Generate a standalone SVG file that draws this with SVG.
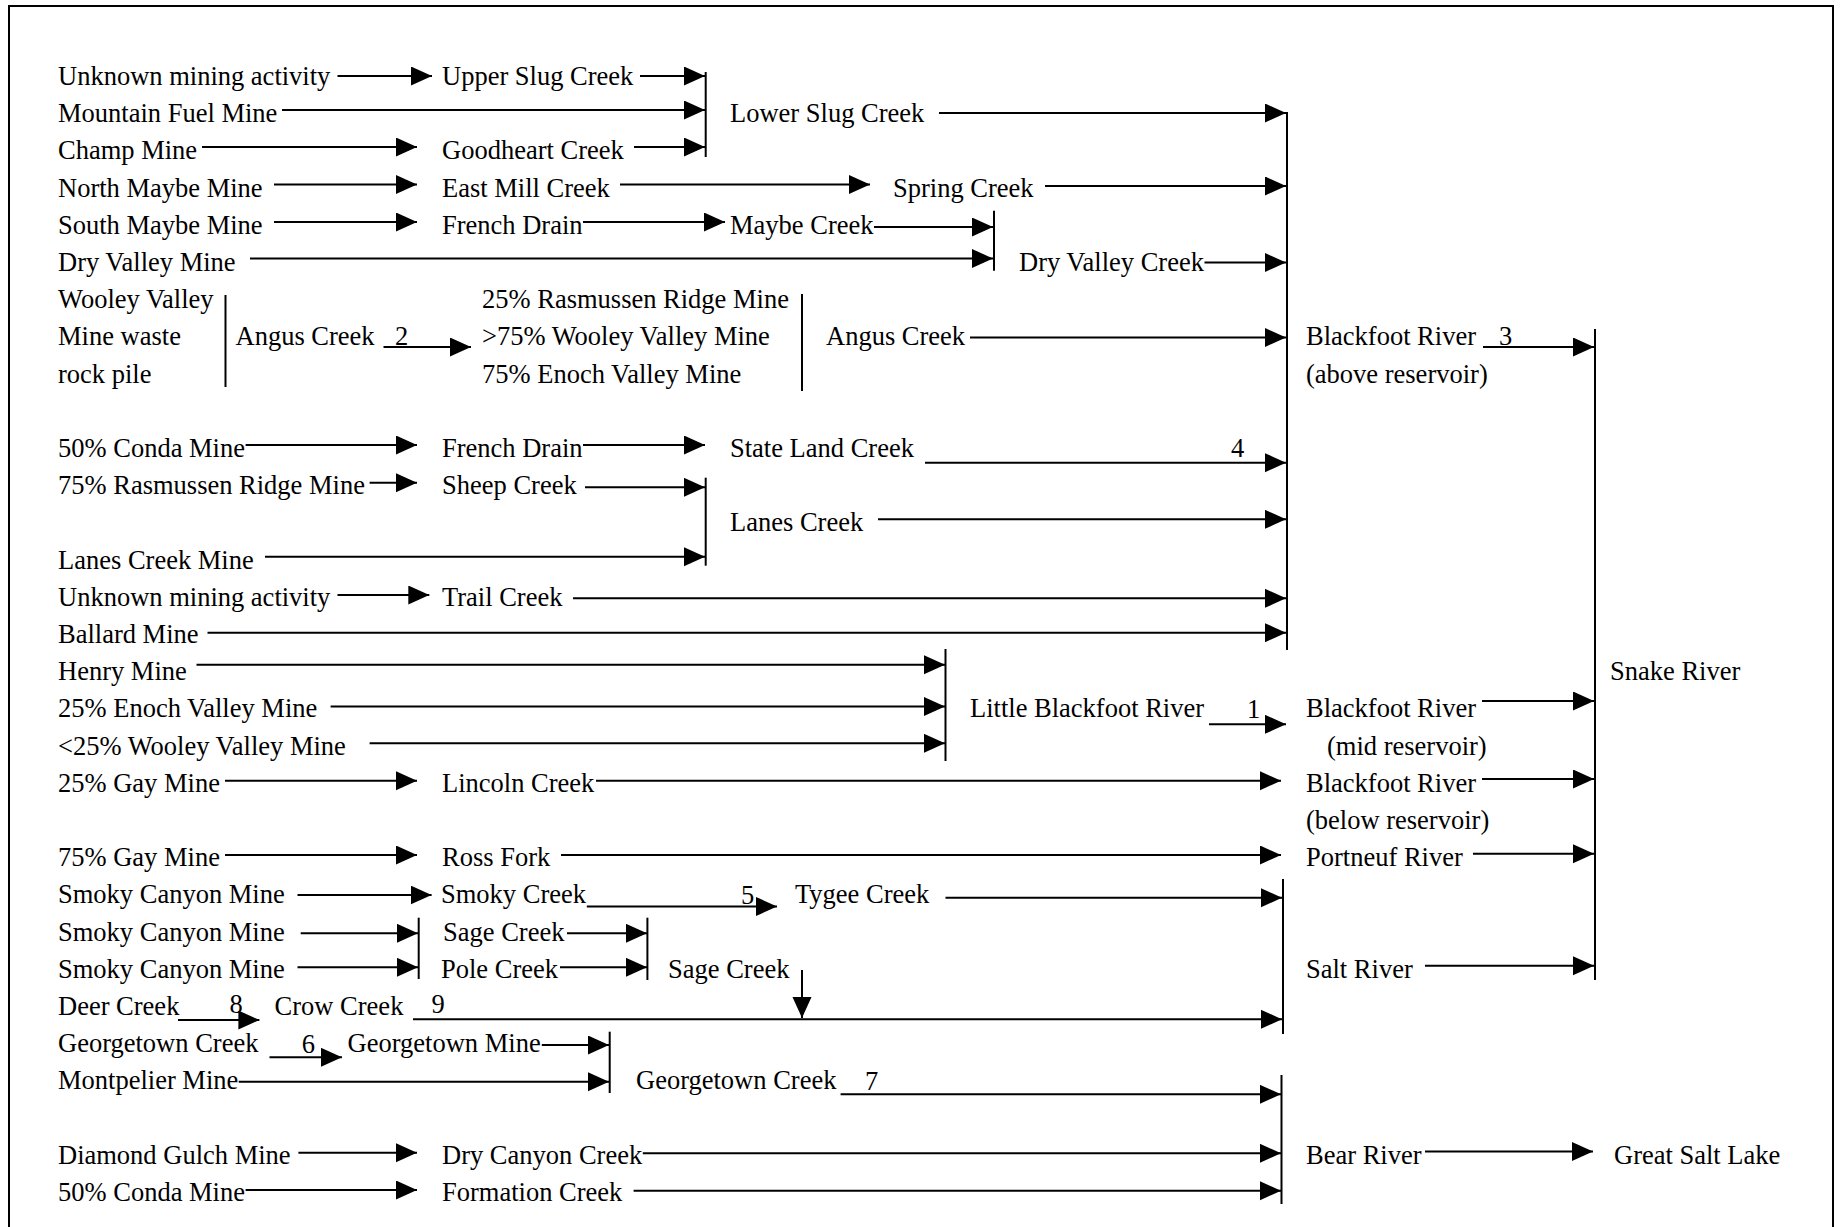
<svg xmlns="http://www.w3.org/2000/svg" width="1843" height="1227" viewBox="0 0 1843 1227">
<defs>
<marker id="ah" markerUnits="userSpaceOnUse" markerWidth="22" markerHeight="20" refX="21" refY="9.5" orient="auto">
<path d="M0,0 L21,9.5 L0,19 z" fill="#000"/>
</marker>
<style>
text{font-family:"Liberation Serif","Times New Roman",serif;font-size:26.5px;fill:#000}
.c line{stroke:#000;stroke-width:2;marker-end:url(#ah)}
.b line{stroke:#000;stroke-width:2}
</style>
</defs>
<rect width="1843" height="1227" fill="#fff"/>
<path d="M9,1227 V6 H1833 V1227" fill="none" stroke="#000" stroke-width="2"/>
<g id="nodes">
<g id="n1"><text x="58" y="85">Unknown mining activity</text></g>
<g id="n2"><text x="442" y="85">Upper Slug Creek</text></g>
<g id="n3"><text x="58" y="122.2">Mountain Fuel Mine</text></g>
<g id="n4"><text x="730" y="122.2">Lower Slug Creek</text></g>
<g id="n5"><text x="58" y="159.4">Champ Mine</text></g>
<g id="n6"><text x="442" y="159.4">Goodheart Creek</text></g>
<g id="n7"><text x="58" y="196.6">North Maybe Mine</text></g>
<g id="n8"><text x="442" y="196.6">East Mill Creek</text></g>
<g id="n9"><text x="893" y="196.6">Spring Creek</text></g>
<g id="n10"><text x="58" y="233.8">South Maybe Mine</text></g>
<g id="n11"><text x="442" y="233.8">French Drain</text></g>
<g id="n12"><text x="730" y="233.8">Maybe Creek</text></g>
<g id="n13"><text x="58" y="271">Dry Valley Mine</text></g>
<g id="n14"><text x="1019" y="271">Dry Valley Creek</text></g>
<g id="n15"><text x="58" y="308.2">Wooley Valley</text><text x="58" y="345.4">Mine waste</text><text x="58" y="382.6">rock pile</text></g>
<g id="n16"><text x="235.5" y="345.4">Angus Creek</text></g>
<g id="n17"><text x="482" y="308.2">25% Rasmussen Ridge Mine</text><text x="482" y="345.4">&gt;75% Wooley Valley Mine</text><text x="482" y="382.6">75% Enoch Valley Mine</text></g>
<g id="n18"><text x="826" y="345.4">Angus Creek</text></g>
<g id="n19"><text x="1306" y="345.4">Blackfoot River</text><text x="1306" y="382.6">(above reservoir)</text></g>
<g id="n20"><text x="58" y="457">50% Conda Mine</text></g>
<g id="n21"><text x="442" y="457">French Drain</text></g>
<g id="n22"><text x="730" y="457">State Land Creek</text></g>
<g id="n23"><text x="58" y="494.2">75% Rasmussen Ridge Mine</text></g>
<g id="n24"><text x="442" y="494.2">Sheep Creek</text></g>
<g id="n25"><text x="730" y="531.4">Lanes Creek</text></g>
<g id="n26"><text x="58" y="568.6">Lanes Creek Mine</text></g>
<g id="n27"><text x="58" y="605.8">Unknown mining activity</text></g>
<g id="n28"><text x="442" y="605.8">Trail Creek</text></g>
<g id="n29"><text x="58" y="643">Ballard Mine</text></g>
<g id="n30"><text x="58" y="680.2">Henry Mine</text></g>
<g id="n31"><text x="1610" y="680.2">Snake River</text></g>
<g id="n32"><text x="58" y="717.4">25% Enoch Valley Mine</text></g>
<g id="n33"><text x="970" y="717.4">Little Blackfoot River</text></g>
<g id="n34"><text x="1306" y="717.4">Blackfoot River</text><text x="1327" y="754.6">(mid reservoir)</text></g>
<g id="n35"><text x="58" y="754.6">&lt;25% Wooley Valley Mine</text></g>
<g id="n36"><text x="58" y="791.8">25% Gay Mine</text></g>
<g id="n37"><text x="442" y="791.8">Lincoln Creek</text></g>
<g id="n38"><text x="1306" y="791.8">Blackfoot River</text><text x="1306" y="829">(below reservoir)</text></g>
<g id="n39"><text x="58" y="866.2">75% Gay Mine</text></g>
<g id="n40"><text x="442" y="866.2">Ross Fork</text></g>
<g id="n41"><text x="1306" y="866.2">Portneuf River</text></g>
<g id="n42"><text x="58" y="903.4">Smoky Canyon Mine</text></g>
<g id="n43"><text x="441" y="903.4">Smoky Creek</text></g>
<g id="n44"><text x="795" y="903.4">Tygee Creek</text></g>
<g id="n45"><text x="58" y="940.6">Smoky Canyon Mine</text></g>
<g id="n46"><text x="443" y="940.6">Sage Creek</text></g>
<g id="n47"><text x="58" y="977.8">Smoky Canyon Mine</text></g>
<g id="n48"><text x="441" y="977.8">Pole Creek</text></g>
<g id="n49"><text x="668" y="977.8">Sage Creek</text></g>
<g id="n50"><text x="1306" y="977.8">Salt River</text></g>
<g id="n51"><text x="58" y="1015">Deer Creek</text></g>
<g id="n52"><text x="274.6" y="1015">Crow Creek</text></g>
<g id="n53"><text x="58" y="1052.2">Georgetown Creek</text></g>
<g id="n54"><text x="347.6" y="1052.2">Georgetown Mine</text></g>
<g id="n55"><text x="58" y="1089.4">Montpelier Mine</text></g>
<g id="n56"><text x="636" y="1089.4">Georgetown Creek</text></g>
<g id="n57"><text x="58" y="1163.8">Diamond Gulch Mine</text></g>
<g id="n58"><text x="442" y="1163.8">Dry Canyon Creek</text></g>
<g id="n59"><text x="1306" y="1163.8">Bear River</text></g>
<g id="n60"><text x="1614" y="1163.8">Great Salt Lake</text></g>
<g id="n61"><text x="58" y="1201">50% Conda Mine</text></g>
<g id="n62"><text x="442" y="1201">Formation Creek</text></g>
</g>
<g id="connectors">
<g class="b">
<line x1="705.7" y1="72" x2="705.7" y2="157"/>
<line x1="1287" y1="112" x2="1287" y2="650"/>
<line x1="994" y1="210.7" x2="994" y2="270.7"/>
<line x1="225.5" y1="295" x2="225.5" y2="387"/>
<line x1="802" y1="294" x2="802" y2="391"/>
<line x1="705.7" y1="477.7" x2="705.7" y2="565.7"/>
<line x1="1595" y1="329" x2="1595" y2="980"/>
<line x1="945.5" y1="649" x2="945.5" y2="761"/>
<line x1="1283" y1="879" x2="1283" y2="1034"/>
<line x1="1281.5" y1="1075" x2="1281.5" y2="1204"/>
<line x1="418.7" y1="917.7" x2="418.7" y2="979"/>
<line x1="647.4" y1="917.7" x2="647.4" y2="980"/>
<line x1="609.7" y1="1031.7" x2="609.7" y2="1093"/>
</g>
<g class="c">
<line x1="337.5" y1="76" x2="432" y2="76"/>
<line x1="640" y1="76" x2="705" y2="76"/>
<line x1="282" y1="110" x2="705" y2="110"/>
<line x1="939" y1="113" x2="1286" y2="113"/>
<line x1="202" y1="147" x2="417" y2="147"/>
<line x1="634" y1="147" x2="705" y2="147"/>
<line x1="274" y1="184.5" x2="417" y2="184.5"/>
<line x1="620" y1="184.5" x2="870" y2="184.5"/>
<line x1="1045" y1="186" x2="1286" y2="186"/>
<line x1="274" y1="222" x2="417" y2="222"/>
<line x1="583" y1="222" x2="725" y2="222"/>
<line x1="874" y1="227" x2="993" y2="227"/>
<line x1="250" y1="258.5" x2="993" y2="258.5"/>
<line x1="1204.5" y1="262.5" x2="1286" y2="262.5"/>
<line x1="383.5" y1="347" x2="471" y2="347"/>
<line x1="970" y1="337.5" x2="1286" y2="337.5"/>
<line x1="1483" y1="347" x2="1594" y2="347"/>
<line x1="245.6" y1="445" x2="417" y2="445"/>
<line x1="583" y1="445" x2="705" y2="445"/>
<line x1="925" y1="462.7" x2="1286" y2="462.7"/>
<line x1="369.6" y1="482.7" x2="417" y2="482.7"/>
<line x1="585" y1="487.3" x2="705" y2="487.3"/>
<line x1="878" y1="519.3" x2="1286" y2="519.3"/>
<line x1="265" y1="556.7" x2="705" y2="556.7"/>
<line x1="337.5" y1="595" x2="429.3" y2="595"/>
<line x1="573" y1="598.3" x2="1286" y2="598.3"/>
<line x1="207.5" y1="632.7" x2="1286" y2="632.7"/>
<line x1="196.5" y1="664.7" x2="945" y2="664.7"/>
<line x1="330.6" y1="706.5" x2="945" y2="706.5"/>
<line x1="1209" y1="724.3" x2="1286" y2="724.3"/>
<line x1="369.6" y1="743.3" x2="945" y2="743.3"/>
<line x1="1482" y1="701" x2="1594" y2="701"/>
<line x1="225" y1="780.7" x2="417" y2="780.7"/>
<line x1="596" y1="780.7" x2="1281" y2="780.7"/>
<line x1="1482" y1="779" x2="1594" y2="779"/>
<line x1="225" y1="855" x2="417" y2="855"/>
<line x1="561" y1="855" x2="1281" y2="855"/>
<line x1="1473" y1="853.7" x2="1594" y2="853.7"/>
<line x1="297.5" y1="895" x2="431.6" y2="895"/>
<line x1="586.8" y1="906.5" x2="777" y2="906.5"/>
<line x1="945.5" y1="897.7" x2="1282" y2="897.7"/>
<line x1="300.7" y1="933.3" x2="418" y2="933.3"/>
<line x1="567" y1="933.3" x2="647" y2="933.3"/>
<line x1="297.5" y1="967.3" x2="418" y2="967.3"/>
<line x1="560" y1="967.3" x2="647" y2="967.3"/>
<line x1="802" y1="970" x2="802" y2="1018"/>
<line x1="1425" y1="965.8" x2="1594" y2="965.8"/>
<line x1="178" y1="1020" x2="259.4" y2="1020"/>
<line x1="413" y1="1019.3" x2="1282" y2="1019.3"/>
<line x1="269.5" y1="1057.3" x2="342" y2="1057.3"/>
<line x1="541.8" y1="1045" x2="609" y2="1045"/>
<line x1="238.7" y1="1081.7" x2="609" y2="1081.7"/>
<line x1="840.6" y1="1094.3" x2="1281" y2="1094.3"/>
<line x1="298.4" y1="1152.7" x2="417" y2="1152.7"/>
<line x1="642.8" y1="1153.3" x2="1281" y2="1153.3"/>
<line x1="1425" y1="1151.6" x2="1593" y2="1151.6"/>
<line x1="245.6" y1="1190" x2="417" y2="1190"/>
<line x1="633.6" y1="1190.7" x2="1281" y2="1190.7"/>
</g>
<g id="labels">
<text x="395" y="345">2</text>
<text x="1499" y="345">3</text>
<text x="1231" y="456.7">4</text>
<text x="1247" y="717.7">1</text>
<text x="741" y="904">5</text>
<text x="229.6" y="1013.3">8</text>
<text x="431.6" y="1013">9</text>
<text x="301.7" y="1052.7">6</text>
<text x="865" y="1090">7</text>
</g>
</g>
</svg>
